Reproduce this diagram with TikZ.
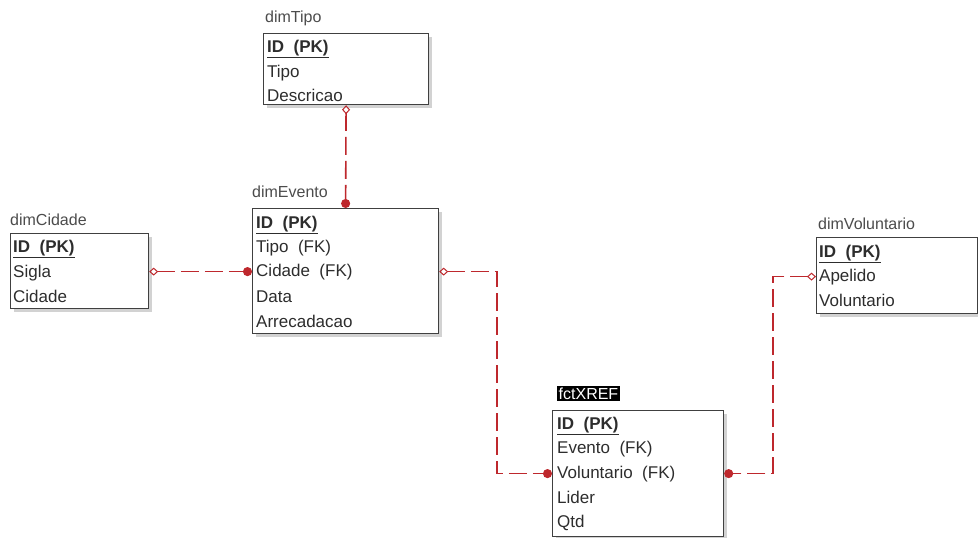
\documentclass[tikz,border=0pt]{standalone}
\usepackage{fontspec}
\setmainfont{Liberation Sans}
\usetikzlibrary{arrows.meta,shadows}
\definecolor{relred}{RGB}{190,40,45}
\definecolor{txtgray}{RGB}{45,45,45}
\tikzset{
    tabela/.style={draw=black!75, line width=1.2pt, fill=white, anchor=north west,
        drop shadow={shadow xshift=3pt, shadow yshift=-3pt, opacity=.35}},
    campo/.style={anchor=base west, inner sep=0pt, text=txtgray, font=\fontsize{17}{19}\selectfont},
    chave/.style={campo, font=\fontsize{17}{19}\selectfont\bfseries},
    titulo/.style={campo, font=\fontsize{16}{18}\selectfont, text=black!70},
    rel/.style={draw=relred, line width=1.6pt, dash pattern=on 18pt off 6pt,
        {Diamond[open,length=9pt,width=8pt,line width=1pt]}-{Circle[length=9pt]}},
}
\newcommand{\pk}{\underline{ID\ \ (PK)}}

\begin{document}
\begin{tikzpicture}[x=1pt,y=-1pt]
\useasboundingbox[fill=white] (0,0) rectangle (978,538);

% dimTipo
\node[titulo] at (265,23) (tpTit) {dimTipo};
\node[tabela, minimum width=165pt, minimum height=71pt] at (263,33) (tipo) {};
\node[chave] at (267,52) (tpId) {\pk};
\node[campo] at (267,77) (tpTipo) {Tipo};
\node[campo] at (267,101) (tpDesc) {Descricao};

% dimEvento
\node[titulo] at (252,197) (evTit) {dimEvento};
\node[tabela, minimum width=186pt, minimum height=125pt] at (252,208) (evento) {};
\node[chave] at (256,228) (evId) {\pk};
\node[campo] at (256,252) (evTipo) {Tipo\ \ (FK)};
\node[campo] at (256,276) (evCidade) {Cidade\ \ (FK)};
\node[campo] at (256,302) (evData) {Data};
\node[campo] at (256,327) (evArrec) {Arrecadacao};

% dimCidade
\node[titulo] at (10,225) (cdTit) {dimCidade};
\node[tabela, minimum width=138pt, minimum height=75pt] at (10,233) (cidade) {};
\node[chave] at (13,252) (cdId) {\pk};
\node[campo] at (13,277) (cdSigla) {Sigla};
\node[campo] at (13,302) (cdCidade) {Cidade};

% dimVoluntario
\node[titulo] at (818,229) (voTit) {dimVoluntario};
\node[tabela, minimum width=161pt, minimum height=76pt] at (816,237) (vol) {};
\node[chave] at (819,257) (voId) {\pk};
\node[campo] at (819,281) (voApel) {Apelido};
\node[campo] at (819,306) (voVol) {Voluntario};

% fctXREF
\node[titulo, fill=black, text=white, inner sep=1.5pt] at (557,399) (xrTit) {fctXREF};
\node[tabela, minimum width=171pt, minimum height=126pt] at (552,410) (xref) {};
\node[chave] at (557,429) (xrId) {\pk};
\node[campo] at (557,453) (xrEvento) {Evento\ \ (FK)};
\node[campo] at (557,478) (xrVol) {Voluntario\ \ (FK)};
\node[campo] at (557,503) (xrLider) {Lider};
\node[campo] at (557,527) (xrQtd) {Qtd};

\coordinate (dobraA) at (497,0);
\coordinate (dobraB) at (773,0);

% relacoes
\draw[rel] (tipo.south) -- (evento.north);
\draw[rel] (cidade.east |- evCidade) -- (evento.west |- evCidade);
\draw[rel] (evento.east |- evCidade) -- (dobraA |- evCidade) -- (dobraA |- xrVol) -- (xref.west |- xrVol);
\draw[rel] (vol.west |- voApel) -- (dobraB |- voApel) -- (dobraB |- xrVol) -- (xref.east |- xrVol);

\end{tikzpicture}
\end{document}
